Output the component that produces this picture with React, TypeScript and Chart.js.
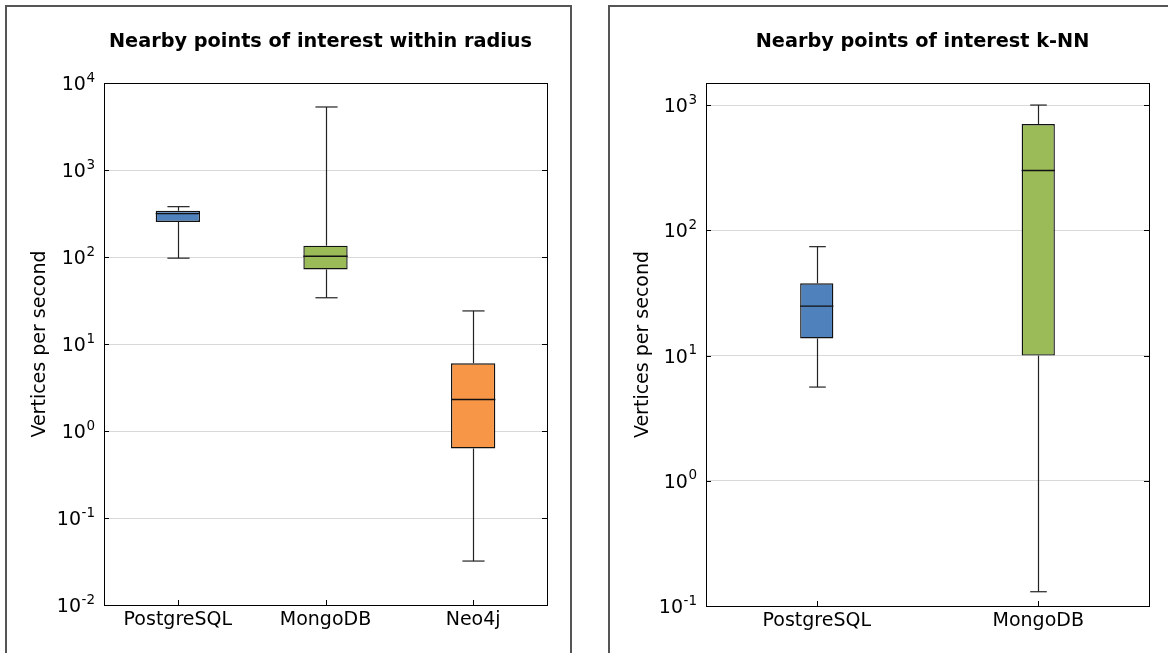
import React, { useEffect, useRef } from "react";
import { Chart, registerables } from "chart.js";

Chart.register(...registerables);

// ---- Data: "Nearby points of interest within radius"
const radiusCategories = ["PostgreSQL", "MongoDB", "Neo4j"];
const radiusWhiskerLow = [97, 34, 0.032];
const radiusQ1 = [253, 72, 0.63];
const radiusMedian = [315, 102, 2.3];
const radiusQ3 = [340, 135, 6.0];
const radiusWhiskerHigh = [379, 5300, 24];
const radiusTicks = [0.01, 0.1, 1, 10, 100, 1000, 10000];

// ---- Data: "Nearby points of interest k-NN"
const knnCategories = ["PostgreSQL", "MongoDB"];
const knnWhiskerLow = [5.6, 0.13];
const knnQ1 = [13.7, 10];
const knnMedian = [24.8, 300];
const knnQ3 = [37.7, 705];
const knnWhiskerHigh = [74, 1000];
const knnTicks = [0.1, 1, 10, 100, 1000];

const boxColors = ["#4f81bd", "#9bbb59", "#f79646"];
const FONT = "'DejaVu Sans', 'Bitstream Vera Sans', sans-serif";

function exponentOf(v: number): string {
  const e = Math.round(Math.log10(v));
  return String(e);
}

type Spec = {
  title: string;
  categories: string[];
  low: number[]; q1: number[]; median: number[]; q3: number[]; high: number[];
  ticks: number[];
  min: number; max: number;
  barPct: number;
  canvasLeft: number; canvasW: number; canvasH: number;
  padTop: number; padRight: number; yWidth: number; xHeight: number;
  titleY: number;
};

function line(ctx: CanvasRenderingContext2D, x1: number, y1: number, x2: number, y2: number) {
  ctx.beginPath();
  ctx.moveTo(x1, y1);
  ctx.lineTo(x2, y2);
  ctx.stroke();
}

function boxPlugin(p: Spec) {
  return {
    id: "boxExtras",
    afterDatasetsDraw(chart: any) {
      const ctx: CanvasRenderingContext2D = chart.ctx;
      const xs = chart.scales.x;
      const ys = chart.scales.y;
      const ca = chart.chartArea;
      const meta = chart.getDatasetMeta(0);
      ctx.save();
      p.categories.forEach((_, i) => {
        const bar = meta.data[i];
        const cx = Math.round(bar.x) + 0.5;
        const half = bar.width / 2;
        const capHalf = half / 2;
        const yHigh = ys.getPixelForValue(p.high[i]);
        const yQ3 = ys.getPixelForValue(p.q3[i]);
        const yQ1 = ys.getPixelForValue(p.q1[i]);
        const yLow = ys.getPixelForValue(p.low[i]);
        const yMed = ys.getPixelForValue(p.median[i]);
        ctx.strokeStyle = "#222";
        ctx.lineWidth = 1.2;
        line(ctx, cx, yQ3, cx, yHigh);
        line(ctx, cx - capHalf, yHigh, cx + capHalf, yHigh);
        line(ctx, cx, yQ1, cx, yLow);
        line(ctx, cx - capHalf, yLow, cx + capHalf, yLow);
        ctx.strokeStyle = "#111";
        ctx.lineWidth = 1.4;
        line(ctx, bar.x - half, yMed, bar.x + half, yMed);
      });
      // frame
      ctx.strokeStyle = "#000";
      ctx.lineWidth = 1;
      ctx.strokeRect(Math.round(ca.left) + 0.5, Math.round(ca.top) + 0.5, Math.round(ca.width), Math.round(ca.height));
      // inward ticks
      p.ticks.forEach((v) => {
        const yy = Math.round(ys.getPixelForValue(v)) + 0.5;
        line(ctx, ca.left, yy, ca.left + 5, yy);
        line(ctx, ca.right, yy, ca.right - 5, yy);
      });
      p.categories.forEach((_, i) => {
        const xx = Math.round(xs.getPixelForValue(i)) + 0.5;
        line(ctx, xx, ca.bottom, xx, ca.bottom - 5);
      });
      // y tick labels: 10 with a raised exponent
      ctx.fillStyle = "#000";
      ctx.textAlign = "right";
      ctx.textBaseline = "alphabetic";
      p.ticks.forEach((v) => {
        const yy = ys.getPixelForValue(v);
        const xr = ca.left - 9;
        const base = yy + 7;
        const ex = exponentOf(v);
        ctx.font = `13.5px ${FONT}`;
        const wE = ctx.measureText(ex).width;
        ctx.fillText(ex, xr, base - 8.5);
        ctx.font = `19px ${FONT}`;
        ctx.fillText("10", xr - wE - 0.5, base);
      });
      // title
      ctx.font = `bold 19.3px ${FONT}`;
      ctx.fillStyle = "#000";
      ctx.textAlign = "center";
      ctx.textBaseline = "alphabetic";
      ctx.fillText(p.title, (ca.left + ca.right) / 2 - 5, p.titleY);
      ctx.restore();
    },
  };
}

function makeConfig(p: Spec): any {
  return {
    type: "bar",
    data: {
      labels: p.categories,
      datasets: [
        {
          data: p.q1.map((v, i) => [v, p.q3[i]]),
          backgroundColor: p.categories.map((_, i) => boxColors[i]),
          borderColor: "#111",
          borderWidth: 1.4,
          borderSkipped: false,
          barPercentage: p.barPct,
          categoryPercentage: 1,
        },
      ],
    },
    options: {
      animation: false,
      responsive: false,
      maintainAspectRatio: false,
      layout: { padding: { left: 0, top: p.padTop, right: p.padRight, bottom: 0 } },
      plugins: {
        legend: { display: false },
        title: { display: false },
        tooltip: { enabled: false },
      },
      scales: {
        x: {
          type: "category",
          grid: { display: false, drawTicks: false },
          border: { display: true, color: "#000", width: 1 },
          ticks: { font: { family: FONT, size: 19 }, color: "#000", padding: 4, maxRotation: 0 },
          afterFit: (s: any) => { s.height = p.xHeight; },
        },
        y: {
          type: "logarithmic",
          min: p.min,
          max: p.max,
          afterBuildTicks: (s: any) => { s.ticks = p.ticks.map((v) => ({ value: v })); },
          ticks: { display: false, autoSkip: false },
          grid: { color: "#d9d9d9", lineWidth: 1, drawTicks: false },
          border: { display: true, color: "#000", width: 1 },
          title: {
            display: true,
            text: "Vertices per second",
            font: { family: FONT, size: 19 },
            color: "#000",
            padding: { top: 21, bottom: 0 },
          },
          afterFit: (s: any) => { s.width = p.yWidth; },
        },
      },
    },
    plugins: [boxPlugin(p)],
  };
}

const radiusSpec: Spec = {
  title: "Nearby points of interest within radius",
  categories: radiusCategories,
  low: radiusWhiskerLow, q1: radiusQ1, median: radiusMedian, q3: radiusQ3, high: radiusWhiskerHigh,
  ticks: radiusTicks,
  min: 0.01, max: 10000,
  barPct: 0.3,
  canvasLeft: 8, canvasW: 560, canvasH: 646,
  padTop: 76, padRight: 21, yWidth: 96, xHeight: 48,
  titleY: 40,
};

const knnSpec: Spec = {
  title: "Nearby points of interest k-NN",
  categories: knnCategories,
  low: knnWhiskerLow, q1: knnQ1, median: knnMedian, q3: knnQ3, high: knnWhiskerHigh,
  ticks: knnTicks,
  min: 0.1, max: 1500,
  barPct: 0.15,
  canvasLeft: 611, canvasW: 557, canvasH: 646,
  padTop: 76, padRight: 19, yWidth: 95, xHeight: 47,
  titleY: 40,
};

function Panel({ spec, frameLeft }: { spec: Spec; frameLeft: number }) {
  const ref = useRef<HTMLCanvasElement>(null);
  useEffect(() => {
    const chart = new Chart(ref.current as HTMLCanvasElement, makeConfig(spec));
    return () => chart.destroy();
  }, []);
  return (
    <>
      <div
        style={{
          position: "fixed",
          left: frameLeft,
          top: 5,
          width: 567,
          height: 700,
          border: "2px solid #555",
          boxSizing: "border-box",
          background: "#fff",
        }}
      />
      <canvas
        ref={ref}
        width={spec.canvasW}
        height={spec.canvasH}
        style={{
          position: "fixed",
          left: spec.canvasLeft,
          top: 7,
          width: spec.canvasW,
          height: spec.canvasH,
        }}
      />
    </>
  );
}

export default function App() {
  return (
    <div style={{ position: "fixed", left: 0, top: 0, width: 1168, height: 653, background: "#fff", overflow: "hidden" }}>
      <Panel spec={radiusSpec} frameLeft={5} />
      <Panel spec={knnSpec} frameLeft={608} />
    </div>
  );
}
